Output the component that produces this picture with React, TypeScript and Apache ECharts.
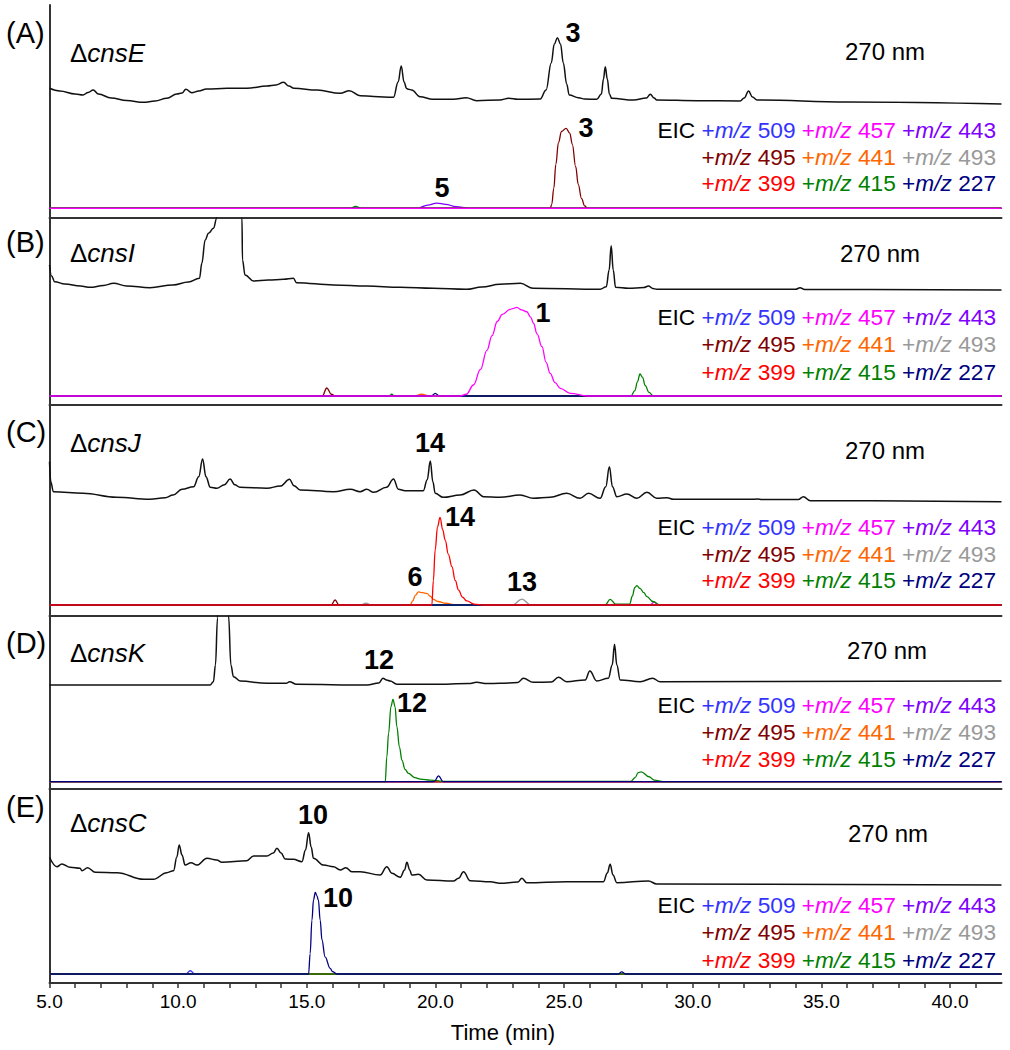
import React, { useEffect, useRef } from 'react';
import * as echarts from 'echarts';

// ---------- axis ----------
const T_MIN = 5;
const T_MAX = 42;
const X_LABELS = [5, 10, 15, 20, 25, 30, 35, 40];
const X_TICKS = [5, 6, 7, 8, 9, 10, 11, 12, 13, 14, 15, 16, 17, 18, 19, 20, 21, 22, 23, 24, 25, 26, 27, 28, 29, 30, 31, 32, 33, 34, 35, 36, 37, 38, 39, 40, 41];

// ---------- EIC ions ----------
const IONS = ['509', '457', '443', '495', '441', '493', '399', '415', '227'];
const ION_COLORS = ['#3333ff', '#ff00ff', '#7f00ff', '#800000', '#ff6600', '#999999', '#ff0000', '#008000', '#000080'];
const LEGEND_ROWS = [['509', '457', '443'], ['495', '441', '493'], ['399', '415', '227']];

const PANEL_LABELS = ['(A)', '(B)', '(C)', '(D)', '(E)'];
const STRAINS = ['cnsE', 'cnsI', 'cnsJ', 'cnsK', 'cnsC'];
const WAVELENGTH = '270 nm';

// ---------- UV 270 nm traces: [time (min), absorbance (rel. units)] ----------
const UV_A = [[5.0, 15.7], [5.4, 13], [6.0, 10], [6.3, 9], [6.5, 11.5], [6.7, 14], [6.9, 10], [7.4, 6], [8.0, 3.5], [8.65, 1.7], [9.1, 3], [9.56, 5.7], [9.95, 10], [10.15, 11], [10.3, 14.7], [10.53, 11.3], [10.8, 13], [11.1, 15], [11.9, 15.7], [12.67, 15.7], [13.45, 18], [13.8, 19], [14.1, 21.7], [14.3, 18], [14.5, 15.7], [15.4, 14], [16.3, 10.7], [16.65, 13.3], [17.07, 8.3], [17.6, 7.5], [18.37, 6.7], [18.55, 22], [18.67, 38], [18.78, 22], [18.88, 15.5], [18.95, 14.7], [19.08, 14], [19.4, 7.3], [19.9, 4.7], [20.7, 4.7], [21.2, 6.3], [21.6, 3.3], [22.5, 4], [22.85, 5.7], [23.2, 4.7], [24.07, 5], [24.3, 14], [24.5, 41], [24.62, 60], [24.74, 66.3], [24.86, 60], [24.97, 41], [25.1, 20], [25.2, 9], [25.56, 6.3], [25.8, 5], [26.27, 4.7], [26.45, 10], [26.53, 25], [26.6, 37.3], [26.68, 25], [26.76, 10], [26.85, 5.7], [27.7, 4], [28.2, 6], [28.35, 9.7], [28.5, 6], [28.6, 4], [30.16, 3.3], [31.84, 3], [32.0, 6], [32.17, 13], [32.32, 7], [32.5, 4], [36, 2], [42, 0]];
const UV_B = [[5.0, 25], [5.08, 14], [5.2, 8.3], [5.6, 6], [6.2, 4], [6.58, 2.7], [7.1, 4.5], [7.49, 6.7], [8.0, 4], [8.9, 2.3], [9.8, 5], [10.4, 8], [10.83, 11.7], [10.92, 26.7], [11.05, 50], [11.18, 56.7], [11.37, 61.7], [11.5, 71.7], [11.55, 120], [11.9, 300], [12.43, 120], [12.48, 72], [12.5, 30], [12.6, 15], [12.93, 9], [13.5, 10], [14.1, 10.7], [14.48, 11.7], [14.6, 7.3], [16.04, 5], [17.34, 4], [18.63, 2.7], [19.92, 1.7], [21.2, 0.7], [21.8, 3], [22.5, 5.7], [23.3, 6.7], [23.8, 1.7], [26.4, 0.7], [26.64, 3.3], [26.75, 20], [26.83, 44.3], [26.91, 20], [27.0, 2.7], [27.5, 1.7], [28.1, 2.5], [28.28, 4], [28.45, 1.5], [28.6, 0.7], [34.0, 0.7], [34.17, 2.3], [34.35, 0.5], [42, 0]];
const UV_C = [[5.0, 40], [5.05, 20], [5.15, 10], [6.3, 8.4], [7.6, 4.4], [8.9, 2.4], [9.5, 4], [9.8, 6.7], [10.15, 12.4], [10.6, 15], [10.8, 25], [10.95, 42.7], [11.08, 25], [11.25, 14.4], [11.5, 13.4], [11.8, 17], [12.02, 22.7], [12.2, 17], [12.4, 14.4], [13.45, 13.4], [13.97, 15.7], [14.33, 22.4], [14.5, 16], [14.74, 11.7], [16.04, 10], [16.7, 12.4], [17.07, 10], [17.33, 12.4], [17.6, 9.4], [18.1, 14.4], [18.37, 22.7], [18.56, 12.4], [18.82, 11], [19.53, 11], [19.68, 22], [19.8, 40.7], [19.9, 20], [19.99, 8.4], [20.3, 4.4], [20.96, 6.7], [21.5, 11.7], [21.87, 5], [22.5, 4.4], [23.29, 6.7], [23.8, 3.4], [24.46, 4.4], [25.1, 8.4], [25.62, 3.4], [25.95, 8.4], [26.4, 3.4], [26.62, 15], [26.76, 35], [26.88, 15], [27.05, 5], [27.44, 7.7], [27.83, 3.4], [28.22, 9.4], [28.6, 3.4], [29.0, 4], [29.25, 2.4], [32.3, 2.4], [32.5, 2.7], [32.7, 2.2], [34.1, 2.2], [34.3, 5], [34.57, 1], [42, 0]];
const UV_D = [[5.0, 0], [11.24, 0], [11.37, 3.3], [11.45, 20], [11.53, 67], [11.6, 150], [11.75, 250], [11.9, 150], [11.96, 69], [12.05, 20], [12.15, 8.3], [12.41, 4], [13.45, 1.7], [14.2, 1.7], [14.33, 3.3], [14.6, 0.7], [17.34, 0], [17.8, 2], [17.96, 6.7], [18.1, 5], [18.24, 4], [18.5, 0.7], [19.92, 0.7], [21.3, 1.5], [21.6, 2.7], [22.0, 1.5], [22.5, 1.7], [23.2, 2.5], [23.42, 6.7], [23.8, 2.7], [24.5, 3], [24.78, 7.7], [25.1, 3.3], [25.82, 5], [26.0, 14], [26.27, 4], [26.72, 6.7], [26.87, 20], [26.96, 40.7], [27.05, 20], [27.18, 5], [27.96, 3.3], [28.44, 6.7], [28.73, 3.3], [42, 4]];
const UV_E = [[5.0, 27.7], [5.29, 18.3], [5.48, 21], [5.8, 17.7], [6.19, 16.7], [6.26, 14.3], [6.48, 17.3], [6.78, 12.7], [7.62, 12.3], [8.66, 5.7], [9.04, 5.7], [9.56, 12.3], [9.82, 14.3], [9.95, 28], [10.04, 40], [10.15, 30], [10.27, 20], [10.5, 22.3], [10.73, 20], [11.12, 26.7], [11.5, 25], [11.7, 22.7], [12.67, 24.3], [12.93, 29], [13.45, 29], [13.7, 32], [13.84, 36.7], [14.0, 32], [14.16, 26], [14.48, 25.7], [14.81, 23.3], [14.95, 35], [15.07, 52.3], [15.17, 38], [15.26, 26.7], [15.65, 20], [16.04, 18.3], [16.3, 15], [16.52, 17.3], [16.75, 13.3], [17.07, 13.3], [17.85, 10], [18.11, 18.3], [18.31, 11.7], [18.63, 7.7], [18.8, 15], [18.89, 22.7], [19.0, 15], [19.08, 10], [19.34, 10.7], [19.67, 5], [20.7, 4], [20.9, 6.7], [21.09, 13.3], [21.35, 4.3], [22.13, 3.3], [22.5, 1.7], [23.2, 3], [23.36, 6.7], [23.55, 2.3], [25.1, 3.3], [26.53, 3.3], [26.68, 12], [26.79, 20.7], [26.9, 10], [27.05, 2.3], [28.28, 4], [28.6, 1], [42, 0]];

// ---------- EIC traces: [time (min), relative intensity %] ----------
const BASELINE = [[5, 0], [42, 0]];
const EIC_A_495 = [[5, 0], [24.46, 0], [24.52, 5], [24.6, 25], [24.68, 55], [24.78, 82], [24.9, 96], [25.08, 100], [25.22, 94], [25.32, 80], [25.45, 52], [25.55, 30], [25.68, 12], [25.8, 3], [25.91, 0], [42, 0]];
const EIC_A_443 = [[5, 0], [19.3, 0], [19.7, 4], [20.05, 6.5], [20.4, 5], [20.8, 2], [21.3, 0], [42, 0]];
const EIC_A_415 = [[5, 0], [16.7, 0], [16.9, 2.5], [17.1, 0], [42, 0]];

const EIC_B_457 = [[5, 0], [20.96, 0], [21.2, 2], [21.48, 12.4], [21.75, 30], [22.0, 51.5], [22.2, 68], [22.4, 84], [22.6, 92], [22.9, 97.7], [23.0, 98.5], [23.16, 100], [23.35, 97], [23.55, 95], [23.7, 89], [23.81, 82], [23.95, 70], [24.14, 55.6], [24.3, 38], [24.46, 25.6], [24.65, 15], [24.85, 8.7], [25.24, 3], [25.9, 0], [42, 0]];
const EIC_B_415 = [[5, 0], [18.2, 0], [18.3, 2], [18.4, 0], [27.6, 0], [27.75, 6], [27.85, 16], [27.95, 24.8], [28.05, 21], [28.15, 12], [28.3, 4], [28.46, 0], [42, 0]];
const EIC_B_495 = [[5, 0], [15.6, 0], [15.78, 9], [15.95, 2], [16.1, 0], [42, 0]];
const EIC_B_227 = [[5, 0], [19.85, 0], [19.99, 3], [20.15, 0], [42, 0]];
const EIC_B_441 = [[5, 0], [19.2, 0], [19.45, 2], [19.8, 0], [42, 0]];

const EIC_C_399 = [[5, 0], [19.86, 0], [19.92, 28], [19.99, 63], [20.08, 89], [20.18, 100], [20.28, 86], [20.38, 74], [20.5, 58], [20.64, 43.7], [20.77, 28], [20.9, 17], [21.05, 9], [21.22, 4.6], [21.5, 1], [21.87, 0], [42, 0]];
const EIC_C_441 = [[5, 0], [19.02, 0], [19.12, 5], [19.22, 11], [19.34, 15], [19.5, 14], [19.67, 13.3], [19.8, 10], [19.92, 6.5], [20.1, 4], [20.4, 2], [20.8, 0], [42, 0]];
const EIC_C_495 = [[5, 0], [15.95, 0], [16.1, 5.7], [16.25, 0], [42, 0]];
const EIC_C_493 = [[5, 0], [17.1, 0], [17.3, 2], [17.5, 0], [23.0, 0], [23.36, 6.8], [23.7, 0], [42, 0]];
const EIC_C_415 = [[5, 0], [26.6, 0], [26.79, 6.5], [27.0, 1], [27.55, 1], [27.65, 10], [27.75, 20], [27.83, 22], [27.95, 19], [28.1, 14], [28.22, 9.5], [28.45, 4], [28.73, 0], [42, 0]];
const EIC_C_457 = [[5, 0], [28.35, 0], [28.5, 3.5], [28.65, 0], [42, 0]];

const EIC_D_415 = [[5, 0], [18.05, 0], [18.11, 30], [18.18, 59], [18.27, 91], [18.35, 100], [18.43, 91], [18.5, 67], [18.6, 42], [18.7, 26], [18.82, 15], [18.95, 10], [19.2, 5], [19.41, 3.2], [19.8, 2], [20.3, 0.5], [27.6, 0.5], [27.76, 5], [27.88, 11], [28.0, 12], [28.3, 6], [28.5, 2], [28.86, 0], [42, 0]];
const EIC_D_227 = [[5, 0], [19.95, 0], [20.12, 7], [20.3, 0], [42, 0]];

const EIC_E_227 = [[5, 0], [15.07, 0], [15.13, 25], [15.2, 66], [15.26, 90.6], [15.33, 100], [15.39, 96], [15.45, 90.6], [15.52, 66], [15.59, 41.6], [15.71, 21], [15.91, 7], [16.0, 3], [16.17, 0], [27.1, 0], [27.24, 2.5], [27.4, 0], [42, 0]];
const EIC_E_509 = [[5, 0], [10.3, 0], [10.47, 4], [10.65, 0], [42, 0]];

// ---------- layout (pixels) ----------
const FONT = '"Liberation Sans", Arial, Helvetica, sans-serif';
const PLOT_LEFT = 49.5;
const PLOT_RIGHT = 1001.5;

const PANELS = [
  {
    top: 5, bottom: 218, uvRef: 104, eicBase: 208.3, eicPx: 80, uv: UV_A,
    eic: { '495': EIC_A_495, '443': EIC_A_443, '415': EIC_A_415 } as Record<string, number[][]>,
    topIon: '457', labelY: 33, strainY: 53, nm: [845, 51], legendY: [130, 157, 183],
    peaks: [{ t: '3', x: 573, y: 33 }, { t: '3', x: 586, y: 128 }, { t: '5', x: 442, y: 188 }],
  },
  {
    top: 218, bottom: 405, uvRef: 290, eicBase: 396, eicPx: 88.7, uv: UV_B,
    eic: { '457': EIC_B_457, '415': EIC_B_415, '495': EIC_B_495, '227': EIC_B_227, '441': EIC_B_441 } as Record<string, number[][]>,
    topIon: '457', labelY: 242, strainY: 253, nm: [840, 253], legendY: [317, 344, 372],
    peaks: [{ t: '1', x: 543, y: 313 }],
  },
  {
    top: 405, bottom: 616, uvRef: 501.7, eicBase: 605, eicPx: 87.7, uv: UV_C,
    eic: { '399': EIC_C_399, '441': EIC_C_441, '495': EIC_C_495, '493': EIC_C_493, '415': EIC_C_415, '457': EIC_C_457 } as Record<string, number[][]>,
    topIon: '399', labelY: 432, strainY: 443, nm: [845, 450], legendY: [527, 554, 580],
    peaks: [{ t: '14', x: 430, y: 443 }, { t: '14', x: 460, y: 517 }, { t: '6', x: 415, y: 577 }, { t: '13', x: 522, y: 582 }],
  },
  {
    top: 616, bottom: 789, uvRef: 685, eicBase: 781.7, eicPx: 82.4, uv: UV_D,
    eic: { '415': EIC_D_415, '227': EIC_D_227 } as Record<string, number[][]>,
    topIon: '227', labelY: 643, strainY: 653, nm: [847, 650], legendY: [705, 732, 759],
    peaks: [{ t: '12', x: 379, y: 660 }, { t: '12', x: 412, y: 703 }],
  },
  {
    top: 789, bottom: 983, uvRef: 885, eicBase: 974, eicPx: 81.7, uv: UV_E,
    eic: { '227': EIC_E_227, '509': EIC_E_509 } as Record<string, number[][]>,
    topIon: '227', labelY: 807, strainY: 823, nm: [848, 833], legendY: [905, 932, 960],
    peaks: [{ t: '10', x: 313, y: 815 }, { t: '10', x: 338, y: 898 }],
  },
];

function text(x: number, y: number, str: string, size: number, extra: any = {}) {
  return {
    type: 'text', x, y, silent: true, z: 100,
    style: {
      text: str, fontFamily: FONT, fontSize: size, fill: '#000',
      align: 'left', verticalAlign: 'middle', ...extra,
    },
  };
}

function buildOption() {
  const grid: any[] = [];
  const xAxis: any[] = [];
  const yAxis: any[] = [];
  const series: any[] = [];
  const graphic: any[] = [];

  const LEG = 22.7;
  const legendRich: any = { k: { fill: '#000', color: '#000', fontSize: LEG, fontFamily: FONT } };
  ION_COLORS.forEach((c, j) => {
    legendRich['u' + j] = { fill: c, color: c, fontSize: LEG, fontFamily: FONT };
    legendRich['i' + j] = { fill: c, color: c, fontSize: LEG, fontFamily: FONT, fontStyle: 'italic' };
  });
  const legendLine = (row: string[], first: boolean) => {
    const parts = row.map((m) => {
      const j = IONS.indexOf(m);
      return `{u${j}|+}{i${j}|m/z}{k| }{u${j}|${m}}`;
    });
    return (first ? '{k|EIC}{k| }' : '') + parts.join('{k| }');
  };

  PANELS.forEach((p, i) => {
    const last = i === PANELS.length - 1;
    grid.push({ left: PLOT_LEFT, width: PLOT_RIGHT - PLOT_LEFT, top: p.top, height: p.bottom - p.top });
    xAxis.push({
      type: 'value', gridIndex: i, min: T_MIN, max: T_MAX,
      axisLine: { show: true, onZero: false, lineStyle: { color: '#333', width: 2 } },
      axisTick: last
        ? { show: true, customValues: X_TICKS, length: 5, lineStyle: { color: '#333', width: 1.5 } }
        : { show: false },
      axisLabel: last
        ? { show: true, customValues: X_LABELS, formatter: (v: number) => v.toFixed(1), fontSize: 19, color: '#000', margin: 9, fontFamily: FONT }
        : { show: false },
      splitLine: { show: false },
    });
    yAxis.push({
      type: 'value', gridIndex: i, min: -(p.bottom - p.uvRef), max: p.uvRef - p.top,
      axisLine: { show: true, onZero: false, lineStyle: { color: '#333', width: 2 } },
      axisTick: { show: false }, axisLabel: { show: false }, splitLine: { show: false },
    });
    const k = p.eicPx / 100;
    yAxis.push({
      type: 'value', gridIndex: i, show: false,
      min: -(p.bottom - p.eicBase) / k, max: (p.eicBase - p.top) / k,
      splitLine: { show: false },
    });

    const order = IONS.filter((m) => m !== p.topIon).concat([p.topIon]);
    order.forEach((m) => {
      const j = IONS.indexOf(m);
      series.push({
        type: 'line', name: `${PANEL_LABELS[i]} EIC ${m}`, xAxisIndex: i, yAxisIndex: 2 * i + 1,
        data: p.eic[m] || BASELINE, symbol: 'none', showSymbol: false,
        smooth: 0.4, smoothMonotone: 'x', clip: true, silent: true, z: 2,
        lineStyle: { color: ION_COLORS[j], width: 1.3 },
      });
    });
    series.push({
      type: 'line', name: `${PANEL_LABELS[i]} UV`, xAxisIndex: i, yAxisIndex: 2 * i,
      data: p.uv, symbol: 'none', showSymbol: false,
      smooth: 0.4, smoothMonotone: 'x', clip: true, silent: true, z: 3,
      lineStyle: { color: '#111', width: 1.5 },
    });

    // texts
    graphic.push(text(6, p.labelY, PANEL_LABELS[i], 29));
    graphic.push(text(70, p.strainY, `{d|Δ}{i|${STRAINS[i]}}`, 26, {
      rich: {
        d: { fontSize: 26, fontFamily: FONT, fill: '#000', color: '#000' },
        i: { fontSize: 26, fontFamily: FONT, fontStyle: 'italic', fill: '#000', color: '#000' },
      },
    }));
    graphic.push(text(p.nm[0], p.nm[1], WAVELENGTH, 24));
    LEGEND_ROWS.forEach((row, r) => {
      graphic.push(text(996, p.legendY[r], legendLine(row, r === 0), LEG, { align: 'right', rich: legendRich }));
    });
    p.peaks.forEach((pk) => {
      graphic.push(text(pk.x, pk.y, pk.t, 27, { align: 'center', fontWeight: 'bold' }));
    });
  });

  graphic.push(text(503, 1032, 'Time (min)', 22, { align: 'center' }));

  return {
    animation: false,
    backgroundColor: '#fff',
    grid, xAxis, yAxis, series, graphic,
  };
}

export default function App() {
  const ref = useRef<HTMLDivElement>(null);
  useEffect(() => {
    const chart = echarts.init(ref.current!, null, { renderer: 'svg' });
    chart.setOption(buildOption() as any);
    return () => chart.dispose();
  }, []);
  return (
    <div
      ref={ref}
      style={{ position: 'absolute', left: 0, top: 0, width: 1010, height: 1050, background: '#fff' }}
    />
  );
}
